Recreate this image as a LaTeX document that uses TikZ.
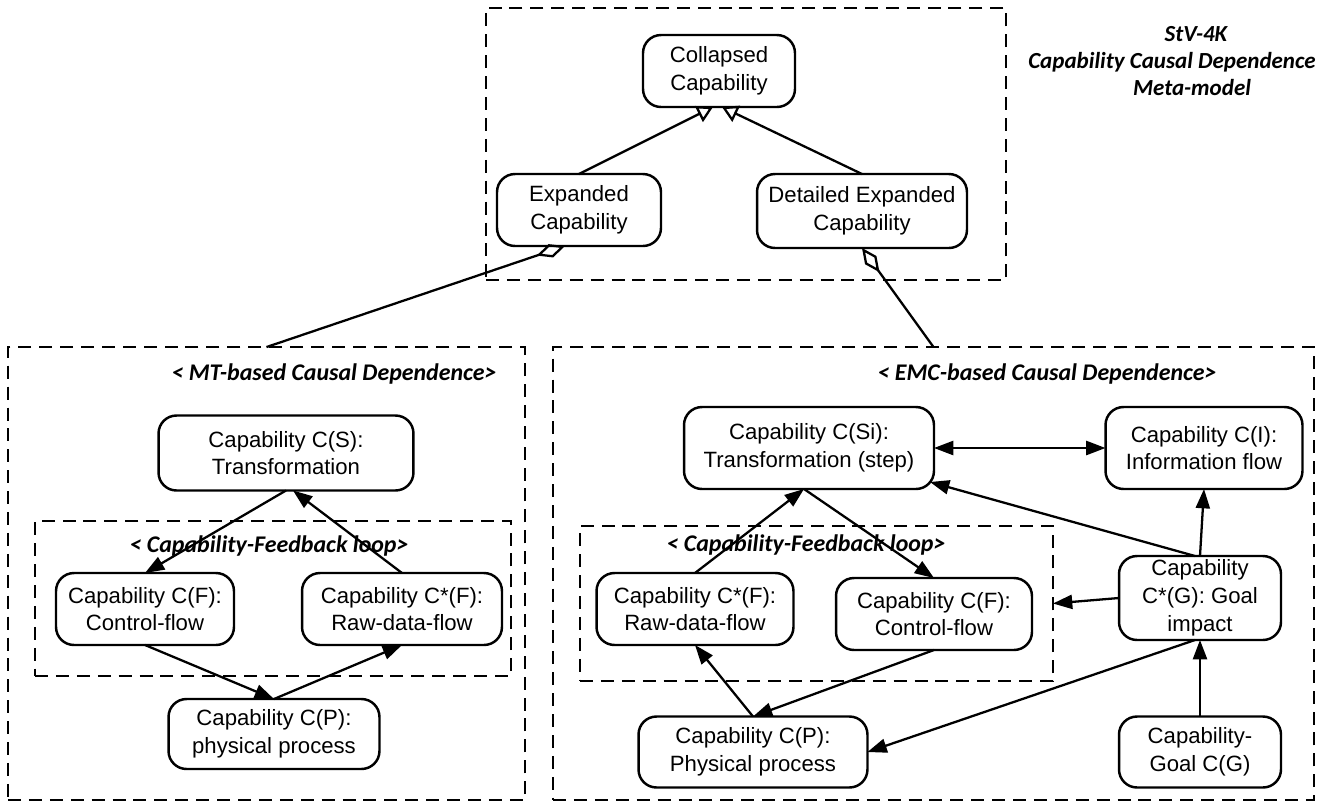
\documentclass[tikz,border=0pt]{standalone}
\usepackage{fontspec}
\setmainfont{Liberation Sans}
\newfontfamily\labelfont{Carlito}
\usepackage{tikz}
\usetikzlibrary{arrows.meta,positioning}
\newcommand{\capfont}{\fontsize{12.6}{15.8}\selectfont}
\newcommand{\tagfont}{\labelfont\bfseries\itshape\fontsize{13.6}{15.5}\selectfont}
\newcommand{\titlefont}{\labelfont\bfseries\itshape\fontsize{13.1}{15.5}\selectfont}

\begin{document}
\begin{tikzpicture}[x=0.02cm,y=-0.02cm]
                    \tikzstyle{every node}+=[inner sep=0pt, outer sep=0pt]
                    \tikzstyle{capbox}=[draw, rounded corners=0.36cm, line width=1.4pt, align=center, font=\capfont]
                    \tikzstyle{framebox}=[draw, line width=1.3pt, dash pattern=on 7.4pt off 4.5pt]
                    \tikzstyle{tagtext}=[font=\tagfont]
                    \tikzstyle{titletext}=[font=\titlefont]
                    \tikzstyle{arr}=[line width=1.3pt, -{Triangle[length=11pt,width=8pt]}]
                    \tikzstyle{bothways}=[line width=1.3pt, {Triangle[length=11pt,width=8pt]}-{Triangle[length=11pt,width=8pt]}]
                    \tikzstyle{gen}=[line width=1.3pt, -{Triangle[open,length=9pt,width=10pt]}]
                    \tikzstyle{agg}=[line width=1.3pt, -{Diamond[open,length=17pt,width=8pt]}]
                    \useasboundingbox (0,0) rectangle (1320,806);
                    % frames
                    \node (topframe) [framebox, minimum width=10.4cm, minimum height=5.44cm] at (746,144) {};
                    \node (mtframe) [framebox, minimum width=10.34cm, minimum height=9.06cm] at (266.5,573.5) {};
                    \node (fbL) [framebox, minimum width=9.52cm, minimum height=3.1cm] at (273,598.5) {};
                    \node (emcframe) [framebox, minimum width=15.22cm, minimum height=9.06cm] at (933.5,573.5) {};
                    \node (fbR) [framebox, minimum width=9.46cm, minimum height=3.1cm] at (816.5,603.5) {};
                    % titles
                    \node (title1) [titletext] at (1196,34) {StV-4K};
                    \node (title2) [titletext] at (1172,62) {Capability Causal Dependence};
                    \node (title3) [titletext] at (1192,88) {Meta-model};
                    \node (mttag) [tagtext] at (334,374) {< MT-based Causal Dependence>};
                    \node (fbLtag) [tagtext] at (269,546) {< Capability-Feedback loop>};
                    \node (emctag) [tagtext] at (1047,374) {< EMC-based Causal Dependence>};
                    \node (fbRtag) [tagtext] at (806,545) {< Capability-Feedback loop>};
                    % meta-model
                    \node (coll) [capbox, minimum width=3.04cm, minimum height=1.44cm] at (719,71) {Collapsed\\Capability};
                    \node (expd) [capbox, minimum width=3.28cm, minimum height=1.44cm] at (579,210) {Expanded\\Capability};
                    \node (dexp) [capbox, minimum width=4.2cm, minimum height=1.48cm] at (862,211) {Detailed Expanded\\Capability};
                    % MT-based
                    \node (csL) [capbox, minimum width=5.1cm, minimum height=1.5cm] at (286,453) {Capability C(S):\\Transformation};
                    \node (cfL) [capbox, minimum width=3.56cm, minimum height=1.44cm] at (145,609) {Capability C(F):\\Control-flow};
                    \node (csfL) [capbox, minimum width=4.0cm, minimum height=1.44cm] at (402,609) {Capability C*(F):\\Raw-data-flow};
                    \node (cpL) [capbox, minimum width=4.22cm, minimum height=1.4cm] at (274,734) {Capability C(P):\\physical process};
                    % EMC-based
                    \node (csi) [capbox, minimum width=5.0cm, minimum height=1.64cm] at (809,448) {Capability C(Si):\\Transformation (step)};
                    \node (ci) [capbox, minimum width=3.94cm, minimum height=1.64cm] at (1204,448) {Capability C(I):\\Information flow};
                    \node (csfR) [capbox, minimum width=3.94cm, minimum height=1.44cm] at (695,609) {Capability C*(F):\\Raw-data-flow};
                    \node (cfR) [capbox, minimum width=3.92cm, minimum height=1.44cm] at (934,614) {Capability C(F):\\Control-flow};
                    \node (csg) [capbox, minimum width=3.24cm, minimum height=1.68cm] at (1200,598) {Capability\\C*(G): Goal\\impact};
                    \node (cpR) [capbox, minimum width=4.58cm, minimum height=1.42cm] at (753,752) {Capability C(P):\\Physical process};
                    \node (cg) [capbox, minimum width=3.24cm, minimum height=1.42cm] at (1200,752) {Capability-\\Goal C(G)};
                    % connectors
                    \draw [gen] (expd.north) -- ([xshift=-0.12cm]coll.south);
                    \draw [gen] (dexp.north) -- ([xshift=0.06cm]coll.south);
                    \draw [agg] (mtframe.north) -- ([xshift=-0.28cm]expd.south);
                    \draw [agg] (emcframe.north) -- (dexp.south);
                    \draw [arr] (csL.south) -- (cfL.north);
                    \draw [arr] (csfL.north) -- ([xshift=0.14cm]csL.south);
                    \draw [arr] (cfL.south) -- (cpL.north);
                    \draw [arr] (cpL.north) -- (csfL.south);
                    \draw [bothways] (csi.east) -- (ci.west);
                    \draw [arr] (csg.north) -- (ci.south);
                    \draw [arr] ([xshift=-0.1cm]csg.north) -- ([shift={(-0.08cm,0.14cm)}]csi.south east);
                    \draw [arr] (csg.west) -- (fbR.east);
                    \draw [arr] (cg.north) -- (csg.south);
                    \draw [arr] ([xshift=-0.1cm]csg.south) -- (cpR.east);
                    \draw [arr] ([xshift=-0.1cm]csi.south) -- (cfR.north);
                    \draw [arr] (csfR.north) -- ([xshift=-0.1cm]csi.south);
                    \draw [arr] (cpR.north) -- (csfR.south);
                    \draw [arr] (cfR.south) -- (cpR.north);
                \end{tikzpicture}
\end{document}
